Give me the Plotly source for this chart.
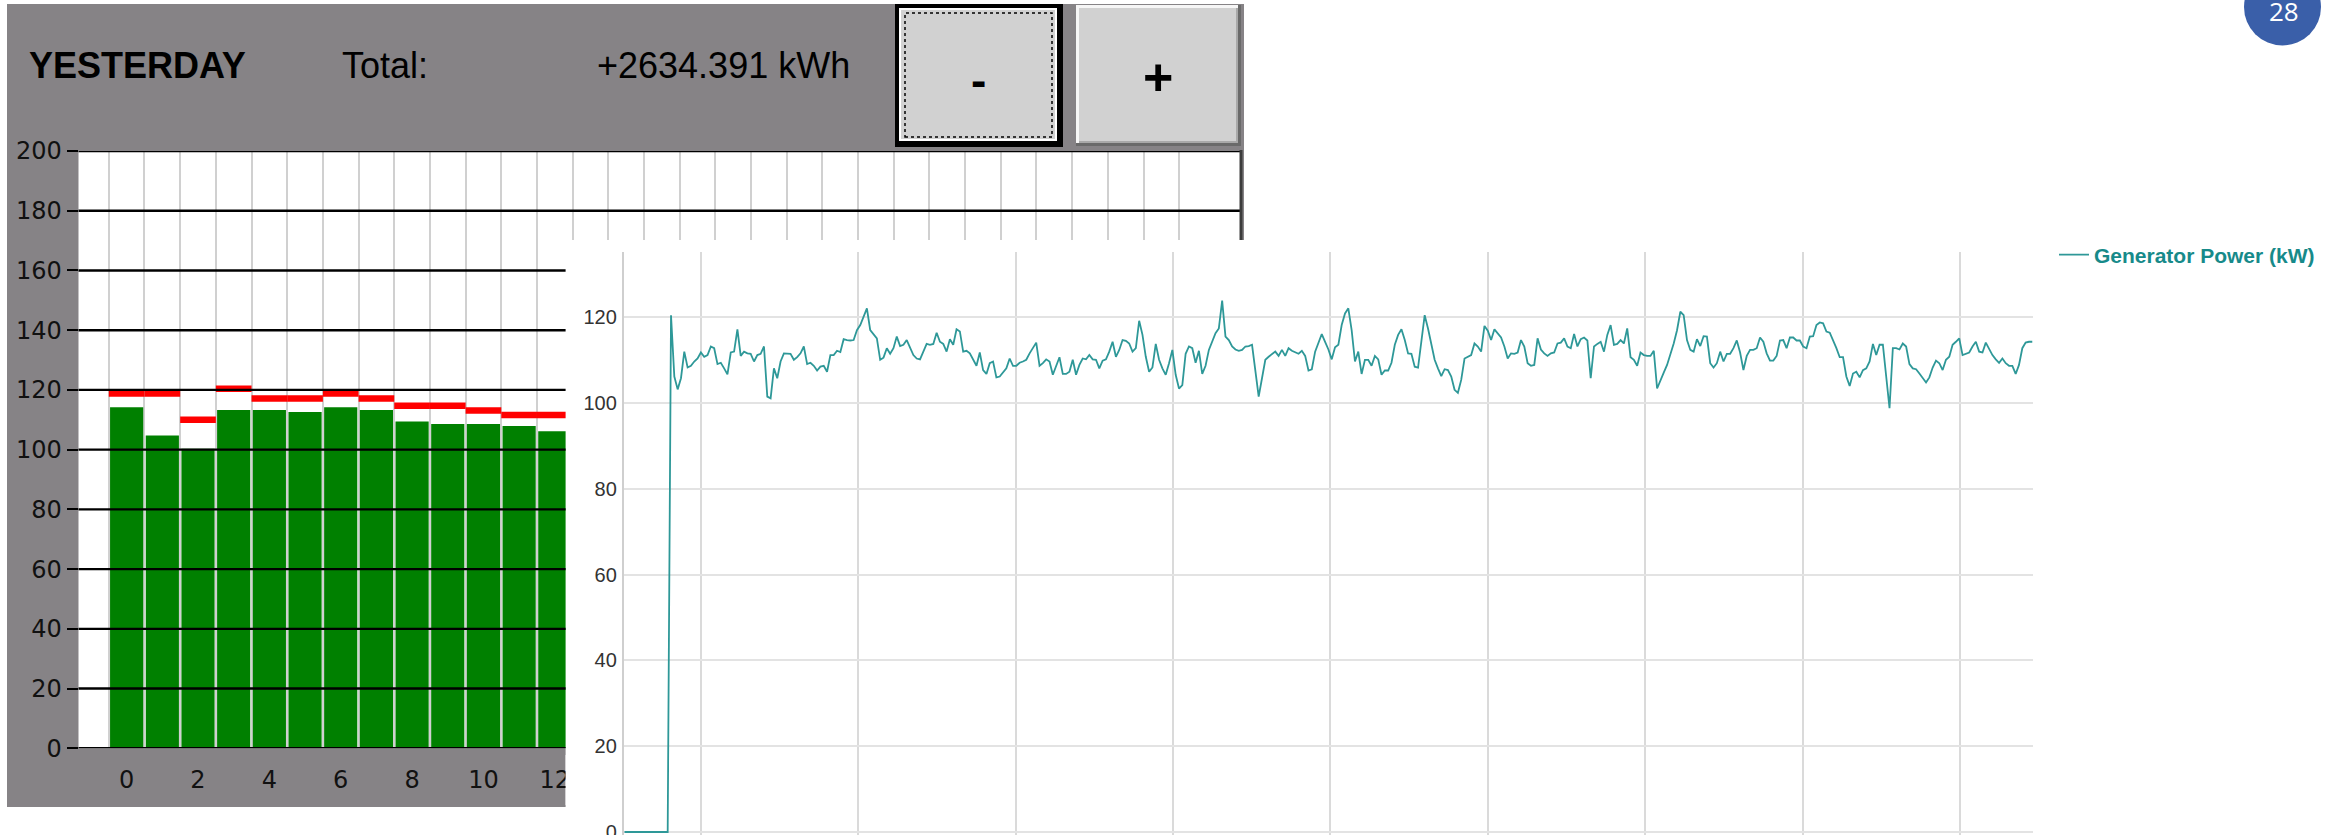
import plotly.graph_objects as go

W, H = 2328, 835

# ---------------- data ----------------
hours = [0, 1, 2, 3, 4, 5, 6, 7, 8, 9, 10, 11, 12]
hour_ticks = [0, 2, 4, 6, 8, 10, 12]
hour_labels = ["0", "2", "4", "6", "8", "10", "12"]
energy_kwh = [114.2, 104.7, 100.3, 113.3, 113.3, 112.6, 114.2, 113.3, 109.4, 108.6, 108.6, 107.9, 106.2]
reference_kwh = [118.8, 118.8, 110.0, 120.4, 117.1, 117.1, 118.8, 117.1, 114.7, 114.7, 113.1, 111.6, 111.6]
bar_yticks = [0, 20, 40, 60, 80, 100, 120, 140, 160, 180, 200]
slot_edges = [-0.5, 0.5, 1.5, 2.5, 3.5, 4.5, 5.5, 6.5, 7.5, 8.5, 9.5, 10.5, 11.5, 12.5]
slot_edges_right = [12.5, 13.5, 14.5, 15.5, 16.5, 17.5, 18.5, 19.5, 20.5, 21.5, 22.5,
                    23.5, 24.5, 25.5, 26.5, 27.5, 28.5, 29.5]
header_title = "YESTERDAY"
header_total_label = "Total:"
header_total_value = "+2634.391 kWh"
page_number = "28"

power_start_h = 0.5154
power_step_h = 0.021094
gen_power_kw = [
    0, 0, 0, 0, 0, 0, 0, 0, 0, 0, 0, 0, 0, 0,
    120.5, 106.2, 103.2, 105.8, 112.0, 108.3, 108.7, 109.7, 110.4, 111.8,
    110.8, 111.2, 113.2, 112.8, 109.1, 109.4, 108.1, 106.7, 111.8, 112.0,
    117.2, 111.0, 112.0, 111.6, 111.5, 109.7, 111.2, 111.5, 113.2, 101.5,
    101.1, 108.1, 105.8, 109.7, 111.6, 111.6, 111.5, 110.1, 110.7, 111.6,
    113.2, 109.1, 109.4, 108.7, 107.6, 108.5, 108.7, 107.3, 111.2, 111.2,
    112.2, 111.9, 114.9, 114.7, 114.6, 114.7, 117.0, 118.2, 120.2, 122.1,
    117.0, 115.9, 115.1, 110.1, 110.6, 112.8, 111.5, 112.8, 115.5, 113.3,
    113.6, 114.7, 112.8, 111.2, 110.4, 110.2, 112.0, 113.8, 113.6, 113.8,
    116.4, 114.3, 113.8, 112.0, 114.9, 113.6, 117.2, 116.7, 112.0, 112.2,
    111.6, 110.1, 108.7, 111.8, 107.7, 106.8, 109.3, 109.7, 106.0, 106.2,
    107.3, 108.1, 110.4, 108.7, 108.7, 109.4, 109.7, 110.1, 111.6, 112.8,
    114.1, 108.7, 109.3, 110.2, 109.7, 106.6, 108.9, 110.7, 106.8, 106.8,
    107.3, 110.1, 106.6, 108.9, 110.4, 110.2, 111.2, 110.2, 110.1, 108.1,
    109.9, 110.2, 112.0, 114.3, 110.8, 112.4,
    114.7, 114.5, 113.9, 112.0, 112.8, 119.2, 115.9, 110.8, 107.3, 108.3,
    113.8, 110.1, 108.1, 106.6, 109.3, 112.4, 106.6, 103.4, 104.2, 111.5,
    113.2, 112.8, 109.4, 112.2, 106.8, 108.7, 112.4, 114.3, 116.3, 117.4,
    123.9, 115.5, 114.7, 113.2, 112.5, 112.2, 112.4, 113.2, 113.3, 113.6,
    107.3, 101.5, 105.8, 110.1, 110.8, 111.5, 112.0, 111.0, 112.4, 111.0,
    112.8, 112.2, 111.8, 111.5, 112.2, 111.0, 107.6, 107.9, 112.0, 114.3,
    116.1, 114.3, 112.5, 110.2, 113.0, 113.6, 118.2, 120.9, 122.1, 117.0,
    109.7, 112.0, 106.8, 110.1, 110.1, 108.7, 111.0, 110.2, 106.6, 107.6,
    107.6, 109.4, 113.6, 115.9, 117.2, 114.7, 111.6, 111.5, 108.5, 108.3,
    114.7, 120.5, 117.4, 113.6, 110.1, 108.1, 106.3, 107.9, 107.7, 106.2,
    103.1, 102.4, 105.4, 110.4, 110.8, 111.2, 113.9, 113.2, 112.0, 118.0,
    116.9, 114.7, 117.2, 116.3, 115.3, 113.2, 110.4, 111.6, 111.5, 111.8,
    114.7, 113.2, 109.3, 108.7, 108.9, 115.1, 112.5, 111.6, 111.0, 111.6,
    111.8, 113.9, 114.1, 115.1, 113.2, 112.8, 116.1, 113.2,
    114.9, 115.3, 114.6, 105.8, 113.2, 113.8, 114.3, 112.0, 115.9, 118.2,
    113.6, 113.8, 114.7, 113.9, 117.4, 110.7, 110.1, 108.7, 111.8, 111.2,
    111.0, 111.0, 112.2, 103.4, 105.4, 107.1, 108.9, 111.2, 113.9, 117.0,
    121.3, 120.5, 114.7, 112.4, 112.0, 114.9, 113.3, 115.6, 115.5, 109.3,
    108.3, 109.3, 112.0, 109.7, 111.5, 111.5, 112.8, 114.6, 111.8, 107.7,
    111.0, 112.4, 112.4, 112.8, 115.3, 114.3, 111.6, 109.9, 109.9, 111.0,
    114.6, 114.7, 112.8, 115.3, 115.3, 114.6, 114.6, 113.2, 112.8, 115.5,
    115.6, 118.2, 118.8, 118.6, 116.7, 116.4, 114.7, 112.8, 110.7, 110.7,
    106.2, 104.0, 106.9, 107.3, 106.0, 107.7, 108.1, 109.7, 113.8, 111.2,
    113.6, 113.6, 106.2, 98.8, 112.8, 112.8, 112.5, 113.9, 113.2, 109.1,
    108.1, 107.9, 106.9, 105.8, 104.8, 106.0, 108.3, 109.9, 109.3, 107.7,
    110.1, 110.8, 113.6, 114.3, 115.1, 111.2, 111.5, 111.8, 113.2, 114.3,
    112.0, 111.8, 114.1, 112.5, 111.2, 110.2, 109.4, 110.4, 109.3, 108.7,
    108.7, 106.8, 108.9, 112.8, 114.1, 114.3, 114.3,
]
power_time_h = [power_start_h + i * power_step_h for i in range(len(gen_power_kw))]

# ---------------- layout helpers (pixel -> paper) ----------------
def px(x):
    return x / W


def py(y):
    return 1 - y / H


HMI_GRAY = "#868386"
BTN_FACE = "#d1d1d1"
HMI_FONT = "DejaVu Sans"
HDR_FONT = "Liberation Sans"
TEAL = "#2e9898"

fig = go.Figure()

# bar chart (left HMI screenshot)
fig.add_trace(go.Bar(x=hours, y=energy_kwh, width=0.93, marker=dict(color="#008000", line=dict(width=0)),
                     xaxis="x", yaxis="y", showlegend=False, hoverinfo="skip"))
fig.add_trace(go.Scatter(x=hours, y=reference_kwh, mode="markers",
                         marker=dict(symbol="line-ew", size=25.5, line=dict(color="#ff0000", width=6.5)),
                         xaxis="x", yaxis="y", showlegend=False, hoverinfo="skip"))
# empty trace so that the upper strip of the HMI chart gets its own subplot (grid only)
fig.add_trace(go.Scatter(x=[None], y=[None], mode="lines", xaxis="x2", yaxis="y2",
                         showlegend=False, hoverinfo="skip"))

# generator power trend
fig.add_trace(go.Scatter(x=power_time_h, y=gen_power_kw, mode="lines", name="Generator Power (kW)",
                         line=dict(color=TEAL, width=1.8), xaxis="x3", yaxis="y3", showlegend=True))

shapes = []
# HMI background panel
shapes.append(dict(type="rect", xref="paper", yref="paper", x0=px(7), x1=px(1244), y0=py(807), y1=py(4),
                   fillcolor=HMI_GRAY, line=dict(width=0), layer="below"))
# white bar chart area
shapes.append(dict(type="rect", xref="paper", yref="paper", x0=px(78.5), x1=px(1241), y0=py(748.3), y1=py(151),
                   fillcolor="white", line=dict(width=0), layer="below"))
# white panel of the trend chart
shapes.append(dict(type="rect", xref="paper", yref="paper", x0=px(565.6), x1=1, y0=0, y1=py(240),
                   fillcolor="white", line=dict(width=0), layer="below"))

# "-" button
shapes += [
    dict(type="rect", xref="paper", yref="paper", x0=px(895), x1=px(1063), y0=py(147), y1=py(4),
         fillcolor="#000000", line=dict(width=0), layer="below"),
    dict(type="rect", xref="paper", yref="paper", x0=px(899), x1=px(1057), y0=py(141), y1=py(8),
         fillcolor="#ffffff", line=dict(width=0), layer="below"),
    dict(type="rect", xref="paper", yref="paper", x0=px(901), x1=px(1055), y0=py(139), y1=py(10),
         fillcolor=BTN_FACE, line=dict(width=0), layer="below"),
    dict(type="rect", xref="paper", yref="paper", x0=px(905), x1=px(1052), y0=py(137), y1=py(13),
         fillcolor="rgba(0,0,0,0)", line=dict(width=1.5, color="#000000", dash="dot"), layer="below"),
]
# "+" button
shapes += [
    dict(type="rect", xref="paper", yref="paper", x0=px(1076), x1=px(1241), y0=py(146), y1=py(5),
         fillcolor="#6a6a6a", line=dict(width=0), layer="below"),
    dict(type="rect", xref="paper", yref="paper", x0=px(1076), x1=px(1238), y0=py(143), y1=py(5),
         fillcolor="#f6f6f6", line=dict(width=0), layer="below"),
    dict(type="rect", xref="paper", yref="paper", x0=px(1079), x1=px(1238), y0=py(143), y1=py(8),
         fillcolor="#a9a9a9", line=dict(width=0), layer="below"),
    dict(type="rect", xref="paper", yref="paper", x0=px(1079), x1=px(1236), y0=py(141), y1=py(8),
         fillcolor=BTN_FACE, line=dict(width=0), layer="below"),
]

# black horizontal grid lines of the HMI chart (drawn over bars)
for v in bar_yticks:
    right = 1241 if v >= 180 else 565.6
    shapes.append(dict(type="line", xref="paper", yref="y", x0=px(78.5), x1=px(right), y0=v, y1=v,
                       line=dict(color="#000000", width=2.4), layer="above"))
# right border of HMI chart
shapes.append(dict(type="line", xref="paper", yref="paper", x0=px(1241), x1=px(1241), y0=py(240), y1=py(150),
                   line=dict(color="#3c3c3c", width=3), layer="above"))
# trend panel hides part of the last HMI tick label
shapes.append(dict(type="rect", xref="paper", yref="paper", x0=px(565.6), x1=px(580), y0=py(805), y1=py(755),
                   fillcolor="white", line=dict(width=0), layer="above"))

# page-number badge
shapes.append(dict(type="circle", xref="paper", yref="paper", x0=px(2244), x1=px(2321), y0=py(45.5), y1=py(-31.5),
                   fillcolor="#3a5fa9", line=dict(width=0), layer="above"))

annotations = [
    dict(text=header_title, x=px(27), y=py(66), xref="paper", yref="paper", xanchor="left", yanchor="middle",
         showarrow=False, font=dict(family=HDR_FONT, size=36, color="#000000", weight="bold")),
    dict(text=header_total_label, x=px(340), y=py(66), xref="paper", yref="paper", xanchor="left",
         yanchor="middle", showarrow=False, font=dict(family=HDR_FONT, size=36, color="#000000")),
    dict(text=header_total_value, x=px(852), y=py(66), xref="paper", yref="paper", xanchor="right",
         yanchor="middle", showarrow=False, font=dict(family=HDR_FONT, size=36, color="#000000")),
    dict(text="-", x=px(978), y=py(80), xref="paper", yref="paper", xanchor="center", yanchor="middle",
         showarrow=False, font=dict(family=HDR_FONT, size=46, color="#000000", weight="bold")),
    dict(text="+", x=px(1158), y=py(77), xref="paper", yref="paper", xanchor="center", yanchor="middle",
         showarrow=False, font=dict(family=HDR_FONT, size=52, color="#000000", weight="bold")),
    dict(text=page_number, x=px(2284), y=py(11), xref="paper", yref="paper", xanchor="center", yanchor="middle",
         showarrow=False, font=dict(family="Open Sans", size=26, color="#ffffff")),
]

bar_x0 = -1.3495
bar_x_split = 12.3024
bar_x1 = 31.232

fig.update_layout(
    width=W, height=H, autosize=False,
    margin=dict(l=0, r=0, t=0, b=0, pad=0, autoexpand=False),
    paper_bgcolor="white", plot_bgcolor="rgba(0,0,0,0)",
    barmode="overlay",
    shapes=shapes, annotations=annotations,
    legend=dict(x=px(2054), y=py(255), xanchor="left", yanchor="middle", bgcolor="rgba(0,0,0,0)",
                borderwidth=0, itemwidth=30,
                font=dict(family=HDR_FONT, size=21, color="#178a8a", weight="bold")),
    # HMI chart, lower part
    xaxis=dict(domain=[px(78.5), px(565.6)], range=[bar_x0, bar_x_split], anchor="y", automargin=False,
               tickmode="array", tickvals=hour_ticks, ticktext=hour_labels, ticks="",
               ticklabelstandoff=15, showgrid=False, zeroline=False, showline=False,
               tickfont=dict(family=HMI_FONT, size=24, color="#111111"),
               minor=dict(tickmode="array", tickvals=slot_edges, showgrid=True, gridcolor="#d0d0d0",
                          gridwidth=2, ticks="")),
    yaxis=dict(domain=[py(748.3), py(151)], range=[0, 200], anchor="x", automargin=False,
               tickmode="array", tickvals=bar_yticks, ticks="outside", ticklen=11, tickwidth=2.4,
               tickcolor="#000000", showgrid=False, zeroline=False, showline=False,
               tickfont=dict(family=HMI_FONT, size=24, color="#111111")),
    # HMI chart, upper strip visible above the trend panel
    xaxis2=dict(domain=[px(565.6), px(1241)], range=[bar_x_split, bar_x1], anchor="y2", automargin=False,
                tickmode="array", tickvals=slot_edges_right, showticklabels=False, ticks="",
                showgrid=True, gridcolor="#d0d0d0", gridwidth=2, zeroline=False, showline=False),
    yaxis2=dict(domain=[py(240), py(151)], range=[170.2, 200], anchor="x2", automargin=False,
                showticklabels=False, ticks="", showgrid=False, zeroline=False, showline=False),
    # generator power trend
    xaxis3=dict(domain=[px(623.6), px(2033)], range=[0.5095, 9.4638], anchor="y3", automargin=False,
                tick0=0, dtick=1, showticklabels=False, ticks="",
                showgrid=True, gridcolor="#dadada", gridwidth=1.5, zeroline=False, showline=False),
    yaxis3=dict(domain=[0, py(252)], range=[-0.7, 135.23], anchor="x3", automargin=False,
                tick0=0, dtick=20, ticks="", ticklabelstandoff=1, ticklabeloverflow="allow",
                showgrid=True, gridcolor="#e3e3e3", gridwidth=2, zeroline=False,
                showline=True, linecolor="#cfcfcf", linewidth=1.5,
                tickfont=dict(family=HDR_FONT, size=20, color="#333333")),
)

fig.write_html("out.html", config={"displayModeBar": False},
               post_script="document.body.style.margin='0';document.body.style.overflow='hidden';")
